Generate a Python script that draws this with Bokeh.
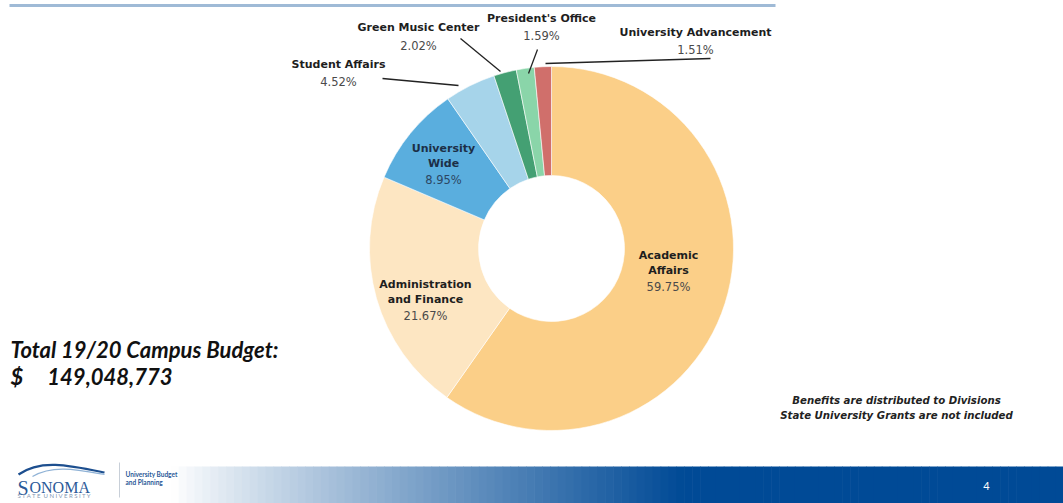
import numpy as np
from bokeh.plotting import figure
from bokeh.models import Range1d
from bokeh.core.properties import value
from bokeh.embed import file_html
from bokeh.resources import INLINE

# ---------------- data ----------------
categories = ["Academic Affairs", "Administration and Finance", "University Wide",
              "Student Affairs", "Green Music Center", "President's Office",
              "University Advancement"]
shares = [59.75, 21.67, 8.95, 4.52, 2.02, 1.59, 1.51]
colors = ["#FBCF88", "#FDE6C2", "#5AAEDE", "#A6D4EA", "#44A073", "#8AD5A9", "#D06F6B"]
total_label = "Total 19/20 Campus Budget:"
total_value = "$\u00a0\u00a0\u00a0\u00a0\u00a0149,048,773"

W, H = 1063, 503
def Y(s):  # screen y -> data y
    return H - s

p = figure(width=W, height=H, x_range=Range1d(0, W), y_range=Range1d(0, H),
           output_backend="svg", toolbar_location=None, min_border=0,
           background_fill_color="white", border_fill_color="white")
p.axis.visible = False
p.xgrid.grid_line_color = None
p.ygrid.grid_line_color = None
p.outline_line_color = None

FONT = value("Lato")
LFONT = value("DejaVu Sans")

# header rule
p.segment(x0=[9], y0=[Y(5)], x1=[775], y1=[Y(5)], line_color="#9FBAD6", line_width=3)

# ---------------- donut ----------------
cx, cy = 551, Y(248)
frac = np.array(shares) / np.sum(shares)
cum = np.concatenate([[0], np.cumsum(frac)])
start = np.pi / 2 - cum[:-1] * 2 * np.pi
end = np.pi / 2 - cum[1:] * 2 * np.pi
p.annular_wedge(x=cx, y=cy, inner_radius=73, outer_radius=182,
                start_angle=start, end_angle=end, direction="clock",
                fill_color=colors, line_color="white", line_width=0.6)

# ---------------- labels ----------------
def lab(x, y, name_lines, pct, col_b="#1e1e1e", col_p="#4a4a4a", lh=15):
    for i, t in enumerate(name_lines):
        p.text(x=[x], y=[Y(y + i * lh)], text=[t], text_font=LFONT, text_font_style="bold",
               text_font_size="11px", text_align="center", text_baseline="middle", text_color=col_b)
    p.text(x=[x], y=[Y(y + len(name_lines) * lh + 1)], text=[pct], text_font=LFONT,
           text_font_size="11.5px", text_align="center", text_baseline="middle", text_color=col_p)

pct_txt = ["%.2f%%" % s for s in shares]

lab(668, 255, ["Academic", "Affairs"], pct_txt[0])
lab(425, 284, ["Administration", "and Finance"], pct_txt[1])
lab(443, 148, ["University", "Wide"], pct_txt[2], col_b="#1c2f47", col_p="#2c4763")
lab(338, 64, ["Student Affairs"], pct_txt[3], lh=16)
lab(418, 27, ["Green Music Center"], pct_txt[4], lh=17)
lab(541, 18, ["President's Office"], pct_txt[5], lh=16)
lab(695, 32, ["University Advancement"], pct_txt[6], lh=16)

# leader lines
p.segment(x0=[382, 460, 537, 545], y0=[Y(78), Y(38), Y(49), Y(63)],
          x1=[458, 500, 528, 710], y1=[Y(85), Y(71), Y(73), Y(58)],
          line_color="#222222", line_width=1.3)

# ---------------- total budget ----------------
p.text(x=[10, 10], y=[Y(349), Y(376)], text=[total_label, total_value], text_font=FONT,
       text_font_style="bold italic", text_font_size="22px", text_baseline="middle",
       text_color="#111111")

# notes
p.text(x=[896, 896], y=[Y(400), Y(415)],
       text=["Benefits are distributed to Divisions", "State University Grants are not included"],
       text_font=LFONT, text_font_style="bold italic", text_font_size="10.2px",
       text_align="center", text_baseline="middle", text_color="#222222")

# ---------------- footer ----------------
n = 120
xs = np.linspace(115, W, n + 1)
c0 = np.array([255, 255, 255]); c1 = np.array([0, 74, 150])
t = np.clip((xs[:-1] - 170) / (680 - 170), 0, 1) ** 0.9
cols = ["#%02x%02x%02x" % tuple((c0 + (c1 - c0) * tt).astype(int)) for tt in t]
p.quad(left=xs[:-1], right=xs[1:] + 0.6, bottom=0, top=Y(466), fill_color=cols, line_color=None)
p.text(x=[986], y=[Y(485)], text=["4"], text_font=FONT, text_font_size="11px",
       text_align="center", text_baseline="middle", text_color="white")

# logo
p.bezier(x0=[18], y0=[Y(474)], x1=[104], y1=[Y(472)], cx0=[40], cy0=[Y(458)], cx1=[70], cy1=[Y(465)],
         line_color="#1d4f8f", line_width=2.2)
p.bezier(x0=[32], y0=[Y(476)], x1=[104], y1=[Y(474)], cx0=[52], cy0=[Y(464)], cx1=[76], cy1=[Y(469)],
         line_color="#8fb2d6", line_width=1.2)
p.text(x=[17], y=[Y(487)], text=["S"], text_font=value("Liberation Serif"), text_font_size="20px",
       text_baseline="alphabetic", text_color="#2b5a98")
p.text(x=[29], y=[Y(487)], text=["ONOMA"], text_font=value("Liberation Serif"), text_font_size="16px",
       text_baseline="alphabetic", text_color="#2b5a98")
p.text(x=[17], y=[Y(495)], text=["S\u00a0T\u00a0A\u00a0T\u00a0E\u00a0\u00a0U\u00a0N\u00a0I\u00a0V\u00a0E\u00a0R\u00a0S\u00a0I\u00a0T\u00a0Y"],
       text_font=FONT, text_font_size="6px", text_baseline="middle", text_color="#7f96b3")
p.segment(x0=[119], y0=[Y(462)], x1=[119], y1=[Y(497)], line_color="#c8cfd8", line_width=1)
p.text(x=[125, 125], y=[Y(474), Y(482)], text=["University Budget", "and Planning"], text_font=FONT,
       text_font_style="bold", text_font_size="6.5px", text_baseline="middle", text_color="#2b5a98")

open("out.html", "w").write(file_html(p, INLINE))
